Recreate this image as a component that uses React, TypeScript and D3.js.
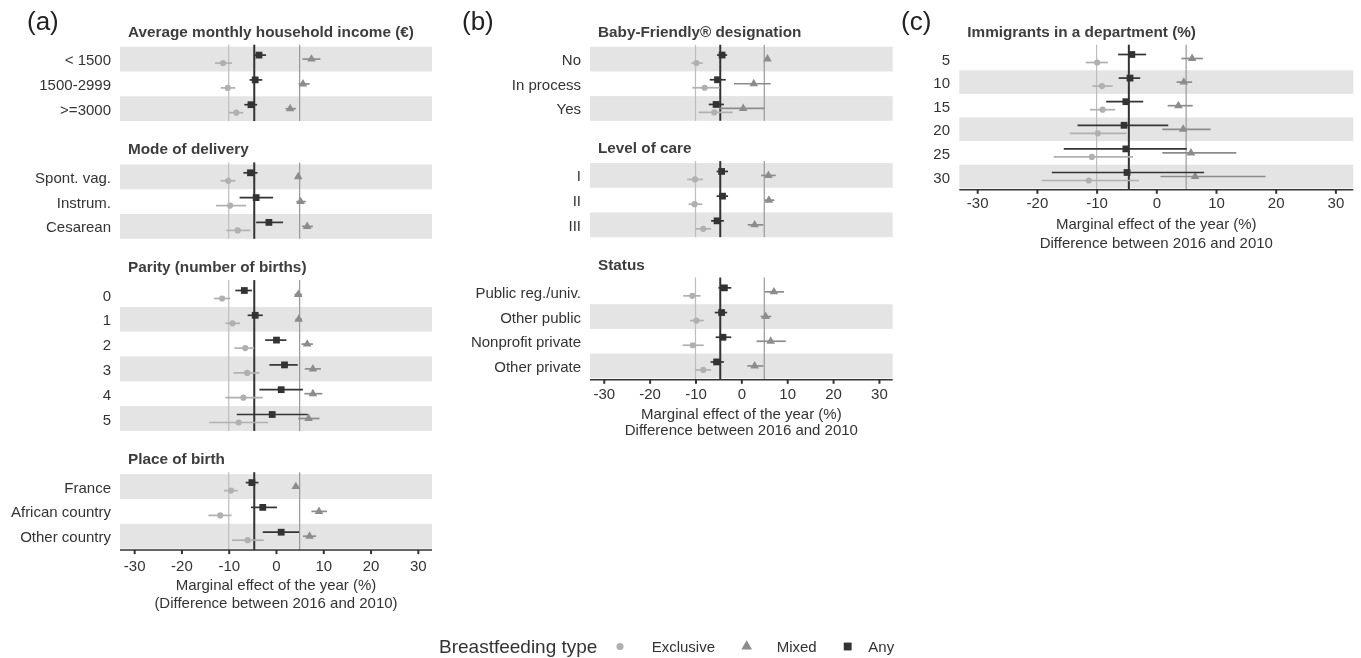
import React, { useRef, useEffect, useMemo } from 'react'
import * as d3 from 'd3'

type Est = [number, number, number] // estimate, lower, upper

const FONT = "'Liberation Sans', Arial, Helvetica, sans-serif"
const W = 1361, H = 658

const xTicks = [-30, -20, -10, 0, 10, 20, 30]
const typeNames = ['Exclusive', 'Mixed', 'Any']
// overall marginal effect of the year, per breastfeeding type
const overallEffect = [-10, 5, -4.6]

// (a) mother characteristics
const incomeLabels = ['< 1500', '1500-2999', '>=3000']
const incomeExclusive: Est[] = [[-11.2, -12.9, -9.3], [-10.2, -11.7, -8.6], [-8.4, -10.0, -6.9]]
const incomeMixed: Est[] = [[7.5, 5.6, 9.4], [5.7, 4.8, 7.1], [3.0, 2.0, 4.2]]
const incomeAny: Est[] = [[-3.6, -4.7, -2.1], [-4.4, -5.6, -2.9], [-5.3, -6.7, -4.0]]

const deliveryLabels = ['Spont. vag.', 'Instrum.', 'Cesarean']
const deliveryExclusive: Est[] = [[-10.1, -11.7, -8.6], [-9.7, -12.7, -6.3], [-8.1, -10.5, -5.4]]
const deliveryMixed: Est[] = [[4.7, 4.2, 5.1], [5.2, 4.3, 6.3], [6.6, 5.5, 7.8]]
const deliveryAny: Est[] = [[-5.4, -6.9, -3.9], [-4.2, -7.7, -0.6], [-1.5, -4.2, 1.5]]

const parityLabels = ['0', '1', '2', '3', '4', '5']
const parityExclusive: Est[] = [[-11.4, -13.1, -9.7], [-9.2, -10.7, -7.6], [-6.5, -8.8, -4.6], [-6.1, -9.0, -3.5], [-6.9, -10.7, -2.8], [-7.9, -14.1, -1.7]]
const parityMixed: Est[] = [[4.7, 3.9, 5.5], [4.8, 4.1, 5.5], [6.6, 5.4, 7.8], [7.8, 6.1, 9.5], [7.8, 6.0, 9.8], [6.9, 4.7, 9.2]]
const parityAny: Est[] = [[-6.7, -8.6, -5.1], [-4.4, -6.0, -2.8], [0.1, -2.3, 2.2], [1.8, -1.4, 4.6], [1.1, -3.5, 5.7], [-0.8, -8.3, 6.7]]

const birthLabels = ['France', 'African country', 'Other country']
const birthExclusive: Est[] = [[-9.5, -11.0, -8.1], [-11.8, -14.3, -9.4], [-6.0, -9.3, -2.6]]
const birthMixed: Est[] = [[4.2, 3.7, 4.8], [9.1, 7.5, 10.8], [7.1, 5.7, 8.5]]
const birthAny: Est[] = [[-5.1, -6.4, -3.7], [-2.8, -5.3, 0.2], [1.1, -2.8, 4.9]]

// (b) maternity unit characteristics
const babyLabels = ['No', 'In process', 'Yes']
const babyExclusive: Est[] = [[-9.8, -10.9, -8.4], [-8.0, -10.7, -4.7], [-5.9, -9.3, -1.9]]
const babyMixed: Est[] = [[5.7, 5.2, 6.2], [2.7, -1.6, 6.4], [0.4, -4.9, 5.1]]
const babyAny: Est[] = [[-4.2, -5.3, -3.1], [-5.2, -6.9, -3.4], [-5.5, -7.1, -3.8]]

const careLabels = ['I', 'II', 'III']
const careExclusive: Est[] = [[-10.1, -11.8, -8.4], [-10.2, -11.5, -8.5], [-8.3, -10.0, -6.6]]
const careMixed: Est[] = [[5.9, 4.3, 7.5], [6.0, 5.0, 7.2], [2.9, 1.4, 4.8]]
const careAny: Est[] = [[-4.3, -5.4, -2.9], [-4.1, -5.4, -2.9], [-5.3, -6.6, -3.8]]

const statusLabels = ['Public reg./univ.', 'Other public', 'Nonprofit private', 'Other private']
const statusExclusive: Est[] = [[-10.7, -12.7, -8.9], [-9.8, -11.2, -8.2], [-10.6, -12.8, -8.2], [-8.3, -10.0, -6.6]]
const statusMixed: Est[] = [[7.1, 5.1, 9.3], [5.3, 4.2, 6.5], [6.4, 3.3, 9.7], [2.9, 1.3, 4.8]]
const statusAny: Est[] = [[-3.7, -5.0, -2.2], [-4.3, -5.8, -3.1], [-4.0, -5.6, -2.2], [-5.4, -6.7, -3.8]]

// (c) department
const immigLabels = ['5', '10', '15', '20', '25', '30']
const immigExclusive: Est[] = [[-9.9, -11.8, -8.1], [-9.1, -10.7, -7.3], [-9.0, -11.1, -6.9], [-9.8, -14.5, -5.0], [-10.8, -17.2, -3.9], [-11.3, -19.2, -2.9]]
const immigMixed: Est[] = [[6.0, 4.2, 7.8], [4.6, 3.4, 6.0], [3.7, 1.9, 6.1], [4.5, 1.0, 9.1], [5.8, 1.0, 13.4], [6.5, 0.7, 18.3]]
const immigAny: Est[] = [[-4.1, -6.4, -1.7], [-4.4, -6.3, -2.7], [-5.1, -8.4, -2.2], [-5.4, -13.2, 2.0], [-5.1, -15.5, 5.1], [-4.9, -17.5, 8.0]]

type Section = { title: string, labels: string[], series: Est[][] }

const panelA: Section[] = [
  { title: 'Average monthly household income (€)', labels: incomeLabels, series: [incomeExclusive, incomeMixed, incomeAny] },
  { title: 'Mode of delivery', labels: deliveryLabels, series: [deliveryExclusive, deliveryMixed, deliveryAny] },
  { title: 'Parity (number of births)', labels: parityLabels, series: [parityExclusive, parityMixed, parityAny] },
  { title: 'Place of birth', labels: birthLabels, series: [birthExclusive, birthMixed, birthAny] },
]
const panelB: Section[] = [
  { title: 'Baby-Friendly® designation', labels: babyLabels, series: [babyExclusive, babyMixed, babyAny] },
  { title: 'Level of care', labels: careLabels, series: [careExclusive, careMixed, careAny] },
  { title: 'Status', labels: statusLabels, series: [statusExclusive, statusMixed, statusAny] },
]
const panelC: Section[] = [
  { title: 'Immigrants in a department (%)', labels: immigLabels, series: [immigExclusive, immigMixed, immigAny] },
]

// styles per type: exclusive, mixed, any
const pointColor = ['#b0b0b0', '#8c8c8c', '#333333']
const refColor = ['#bdbdbd', '#999999', '#333333']
const refWidth = [1.2, 1.2, 2]
const dodge = [4, 0, -4]
const symbols = [
  d3.symbol().type(d3.symbolCircle).size(30)(),
  d3.symbol().type(d3.symbolTriangle).size(32)(),
  d3.symbol().type(d3.symbolSquare).size(46)(),
]
const legendSymbols = [
  d3.symbol().type(d3.symbolCircle).size(40)(),
  d3.symbol().type(d3.symbolTriangle).size(50)(),
  d3.symbol().type(d3.symbolSquare).size(62)(),
]

function XAxis({ x, y, pad }: { x: d3.ScaleLinear<number, number>, y: number, pad: number }) {
  const ref = useRef<SVGGElement>(null)
  useEffect(() => {
    const g = d3.select(ref.current!)
    g.call(d3.axisBottom(x).tickValues(xTicks).tickSize(4).tickPadding(pad).tickFormat(d => String(d)))
    g.select('.domain').remove()
    g.selectAll('.tick line').attr('stroke', '#333').attr('stroke-width', 2)
    g.selectAll('.tick text').attr('fill', '#333').style('font-size', '15px').style('font-family', FONT)
  }, [x, y, pad])
  return <g ref={ref} transform={`translate(0,${y})`} />
}

type PanelProps = {
  tag: string, tagX: number, sections: Section[], x0: number, x1: number, labelX: number,
  top: number, rowH: number, gap: number, xTitle: string[], xTitleY: number[], tickPad: number
}

function Panel({ tag, tagX, sections, x0, x1, labelX, top, rowH, gap, xTitle, xTitleY, tickPad }: PanelProps) {
  const x = useMemo(() => d3.scaleLinear().domain([-33, 33]).range([x0, x1]), [x0, x1])
  let cur = top
  const laid = sections.map(s => {
    const t = cur, b = cur + s.labels.length * rowH
    const y = d3.scaleBand<string>().domain(s.labels).range([t, b])
    cur = b + gap
    return { ...s, y, t, b }
  })
  const axisY = laid[laid.length - 1].b + 1.5
  const mid = (x0 + x1) / 2

  return (
    <g fontFamily={FONT}>
      <text x={tagX} y={29.5} fontSize={26} fill="#222">{tag}</text>
      {laid.map((s, si) => {
        const n = s.labels.length
        const last = si === laid.length - 1
        return (
          <g key={s.title}>
            {s.labels.map((l, i) => (n - 1 - i) % 2 === 0 ? (
              <rect key={l} x={x0} width={x1 - x0} y={s.y(l)!} height={s.y.bandwidth()} fill="#e4e4e5" />
            ) : null)}
            {overallEffect.map((v, k) => (
              <line key={k} x1={x(v)} x2={x(v)} y1={s.t - 2} y2={last ? axisY : s.b}
                stroke={refColor[k]} strokeWidth={refWidth[k]} />
            ))}
            {s.series.map((ser, k) => (
              <g key={k}>
                {ser.map((d, i) => {
                  const cy = s.y(s.labels[i])! + s.y.bandwidth() / 2 + dodge[k]
                  return (
                    <g key={i}>
                      <line x1={x(d[1])} x2={x(d[2])} y1={cy} y2={cy} stroke={pointColor[k]} strokeWidth={1.7} />
                      <path d={symbols[k]} transform={`translate(${x(d[0])},${cy})`} fill={pointColor[k]} />
                    </g>
                  )
                })}
              </g>
            ))}
            {s.labels.map(l => (
              <text key={l} x={labelX} y={s.y(l)! + s.y.bandwidth() / 2 + 6} textAnchor="end" fontSize={15} fill="#333">{l}</text>
            ))}
            <text x={x0 + 8} y={s.t - 10} fontSize={15.3} fontWeight="bold" fill="#3d3d3d">{s.title}</text>
          </g>
        )
      })}
      <line x1={x0} x2={x1} y1={axisY} y2={axisY} stroke="#333" strokeWidth={1.5} />
      <XAxis x={x} y={axisY} pad={tickPad} />
      {xTitle.map((t, i) => (
        <text key={i} x={mid} y={xTitleY[i]} textAnchor="middle" fontSize={15} fill="#333">{t}</text>
      ))}
    </g>
  )
}

function Legend() {
  const keyX = [620, 746.7, 847.7]
  const textX = [651.7, 776.7, 868.3]
  return (
    <g fontFamily={FONT}>
      <text x={439} y={653} fontSize={19} fill="#333">Breastfeeding type</text>
      {typeNames.map((t, k) => (
        <g key={t}>
          <path d={legendSymbols[k]} transform={`translate(${keyX[k]},646.5)`} fill={pointColor[k]} />
          <text x={textX[k]} y={652.3} fontSize={15} fill="#333">{t}</text>
        </g>
      ))}
    </g>
  )
}

export default function App() {
  return (
    <svg width={W} height={H} style={{ position: 'absolute', left: 0, top: 0, willChange: 'transform' }}>
      <Panel tag="(a)" tagX={27} sections={panelA} x0={120} x1={432} labelX={111}
        top={46.7} rowH={24.8} gap={43.3} tickPad={6}
        xTitle={['Marginal effect of the year (%)', '(Difference between 2016 and 2010)']} xTitleY={[589.5, 607.5]} />
      <Panel tag="(b)" tagX={462} sections={panelB} x0={590} x1={892.7} labelX={581}
        top={46.7} rowH={24.7} gap={42.3} tickPad={5}
        xTitle={['Marginal effect of the year (%)', 'Difference between 2016 and 2010']} xTitleY={[418.5, 434.5]} />
      <Panel tag="(c)" tagX={901} sections={panelC} x0={959.3} x1={1353.3} labelX={950}
        top={46.7} rowH={23.6} gap={0} tickPad={4}
        xTitle={['Marginal effect of the year (%)', 'Difference between 2016 and 2010']} xTitleY={[229, 248]} />
      <Legend />
    </svg>
  )
}
